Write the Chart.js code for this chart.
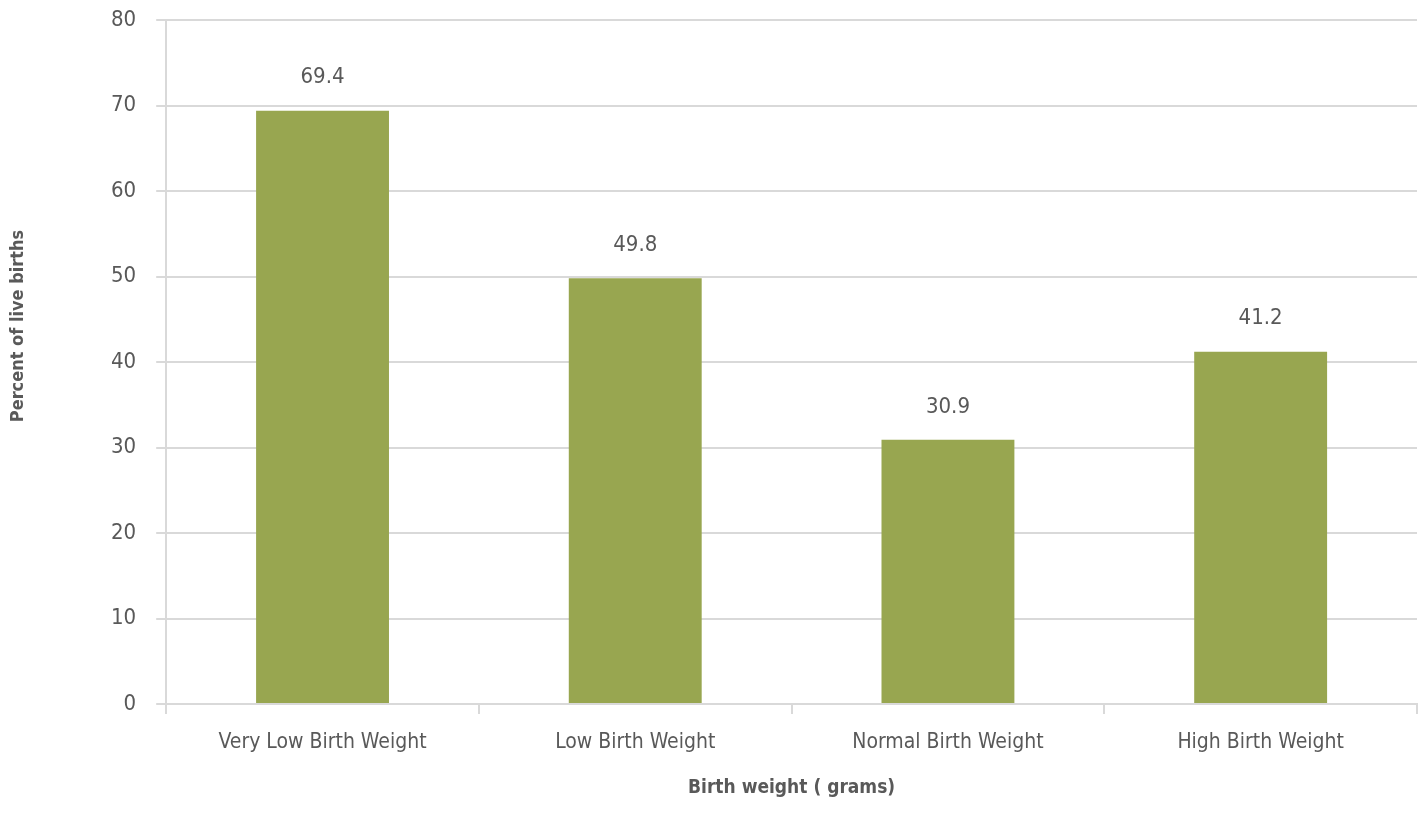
<!DOCTYPE html>
<html>
<head>
<meta charset="utf-8">
<script src="https://cdn.jsdelivr.net/npm/chart.js@4.4.1/dist/chart.umd.min.js"></script>
<style>
  html, body { margin: 0; padding: 0; background: #fff; }
  #wrap { width: 1419px; height: 829px; }
</style>
</head>
<body>
<div id="wrap"><canvas id="birthChart"></canvas></div>
<script>
// categorias e valores
const categories = ["Very Low Birth Weight", "Low Birth Weight", "Normal Birth Weight", "High Birth Weight"];
const percentValues = [69.4, 49.8, 30.9, 41.2];
const yTicks = [0, 10, 20, 30, 40, 50, 60, 70, 80];

const narrowFont = "'Liberation Sans Narrow', 'DejaVu Sans Condensed', 'Roboto', sans-serif";
const textColor = '#595959';
const gridColor = '#d9d9d9';

// rótulos de valor acima das barras (sem plugin datalabels)
const valueLabels = {
    id: 'valueLabels',
    afterDatasetsDraw(chart) {
        const ctx = chart.ctx;
        const meta = chart.getDatasetMeta(0);
        ctx.save();
        ctx.font = "22px " + narrowFont;
        ctx.fillStyle = textColor;
        ctx.textAlign = 'center';
        ctx.textBaseline = 'middle';
        meta.data.forEach((bar, i) => {
            ctx.fillText(percentValues[i].toFixed(1), bar.x, bar.y - 33);
        });
        ctx.restore();
    }
};

// título do eixo Y, um pouco acima do centro como no original
const yAxisTitle = {
    id: 'yAxisTitle',
    afterDraw(chart) {
        const ctx = chart.ctx;
        const area = chart.chartArea;
        ctx.save();
        ctx.translate(18, (area.top + area.bottom) / 2 - 36);
        ctx.rotate(-Math.PI / 2);
        ctx.font = "bold 18px " + narrowFont;
        ctx.fillStyle = textColor;
        ctx.textAlign = 'center';
        ctx.textBaseline = 'middle';
        ctx.fillText('Percent of live births', 0, 0);
        ctx.restore();
    }
};

const ctx = document.getElementById('birthChart').getContext('2d');
new Chart(ctx, {
    type: 'bar',
    data: {
        labels: categories,
        datasets: [{
            label: 'Percent of live births',
            data: percentValues,
            backgroundColor: '#98a650',
            categoryPercentage: 1,
            barPercentage: 0.425
        }]
    },
    options: {
        responsive: true,
        maintainAspectRatio: false,
        animation: false,
        layout: { padding: { top: 20, right: 2, bottom: 30, left: 91 } },
        plugins: {
            legend: { display: false },
            tooltip: { enabled: false }
        },
        scales: {
            x: {
                grid: {
                    display: true,
                    offset: true,
                    drawOnChartArea: false,
                    drawTicks: true,
                    tickLength: 10,
                    color: gridColor,
                    lineWidth: 2
                },
                border: { display: true, color: gridColor, width: 2 },
                ticks: {
                    color: textColor,
                    font: { family: narrowFont, size: 21 },
                    padding: 16
                },
                title: {
                    display: true,
                    text: 'Birth weight ( grams)',
                    color: textColor,
                    font: { family: narrowFont, size: 19, weight: 'bold' },
                    padding: { top: 5, bottom: 0 }
                }
            },
            y: {
                min: 0,
                max: 80,
                afterBuildTicks(axis) {
                    axis.ticks = yTicks.map(v => ({ value: v }));
                },
                afterFit(axis) {
                    // o topo do gráfico fica na margem, não na metade do rótulo "80"
                    axis.paddingTop = 0;
                },
                grid: {
                    color: gridColor,
                    lineWidth: 2,
                    tickLength: 10
                },
                border: { display: true, color: gridColor, width: 2 },
                ticks: {
                    color: textColor,
                    font: { family: narrowFont, size: 22 },
                    padding: 20
                }
            }
        }
    },
    plugins: [valueLabels, yAxisTitle]
});
</script>
</body>
</html>
